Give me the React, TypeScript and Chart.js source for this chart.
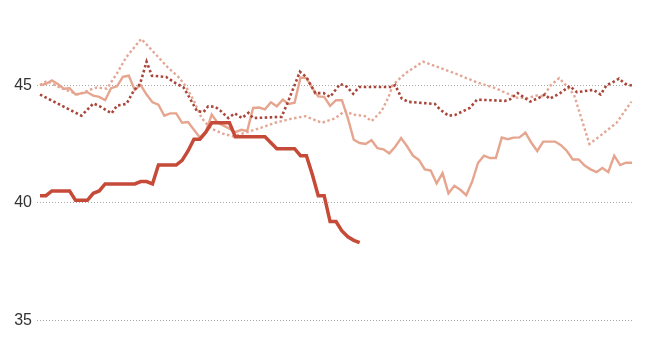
import React, { useEffect, useRef } from "react";
import { Chart, registerables } from "chart.js";

Chart.register(...registerables);

const yTicks = [35, 40, 45];

// Weekly series (x = week index)
const boldValues = [
  40.3, 40.3, 40.5, 40.5, 40.5, 40.5, 40.1, 40.1, 40.1, 40.4,
  40.5, 40.8, 40.8, 40.8, 40.8, 40.8, 40.8, 40.9, 40.9, 40.8,
  41.6, 41.6, 41.6, 41.6, 41.8, 42.2, 42.7, 42.7, 43.0, 43.4,
  43.4, 43.4, 43.4, 42.8, 42.8, 42.8, 42.8, 42.8, 42.8, 42.55,
  42.3, 42.3, 42.3, 42.3, 42.0, 42.0, 41.2, 40.3, 40.3, 39.2,
  39.2, 38.8, 38.55, 38.4, 38.3,
];

const lightSolidValues = [
  45.0, 45.05, 45.2, 45.05, 44.85, 44.87, 44.6, 44.65, 44.7, 44.55,
  44.5, 44.36, 44.87, 44.95, 45.35, 45.4, 44.8, 45.0, 44.6, 44.27,
  44.17, 43.7, 43.8, 43.8, 43.4, 43.43, 43.1, 42.77, 43.0, 43.75,
  43.4, 43.28, 43.15, 43.0, 43.1, 43.05, 44.03, 44.05, 43.97, 44.27,
  44.1, 44.38, 44.2, 44.25, 45.32, 45.3, 44.87, 44.52, 44.5, 44.12,
  44.36, 44.36, 43.6, 42.68, 42.54, 42.5, 42.66, 42.32, 42.27, 42.1,
  42.38, 42.75, 42.4, 42.0, 41.82, 41.42, 41.37, 40.82, 41.26, 40.4,
  40.72, 40.55, 40.32, 40.9, 41.7, 42.0, 41.9, 41.9, 42.77, 42.7,
  42.77, 42.78, 42.98, 42.55, 42.2, 42.6, 42.6, 42.6, 42.45, 42.2,
  41.84, 41.84, 41.58, 41.42, 41.3, 41.48, 41.3, 42.0, 41.6, 41.7, 41.7,
];

// Irregular series (week positions + values)
const darkDotWeeks = [
  0, 7, 9, 10.1, 12.1, 13, 14.6, 15.8, 16.9, 18, 18.9, 21.3, 23.1, 24.2, 25.3,
  26.5, 27.6, 28.4, 29.6, 30.4, 31.8, 32.9, 34.1, 35.2, 36, 40.8, 41.9, 43.9,
  45, 46.5, 47.9, 49, 50.7, 51.8, 52.9, 53.9, 59.4, 60, 61.1, 62.2, 66.7, 67.6,
  69, 70.1, 72.6, 73.8, 76, 78.5, 79.4, 80.7, 82.8, 84.2, 85.3, 86.1, 87.8,
  89.5, 90.7, 93.5, 94.7, 95.7, 96.6, 97.8, 98.8, 100,
];
const darkDotValues = [
  44.6, 43.7, 44.22, 44.1, 43.8, 44.13, 44.2, 44.75, 45.05, 46.0, 45.4, 45.35,
  45.05, 44.92, 44.45, 43.9, 43.85, 44.1, 44.08, 43.93, 43.6, 43.8, 43.6, 43.82,
  43.6, 43.65, 44.3, 45.57, 45.34, 44.66, 44.66, 44.5, 45.05, 44.94, 44.63,
  44.92, 44.92, 45.0, 44.43, 44.29, 44.2, 43.96, 43.7, 43.73, 44.03, 44.38,
  44.36, 44.33, 44.4, 44.66, 44.3, 44.45, 44.6, 44.42, 44.65, 44.96, 44.7, 44.8,
  44.6, 45.0, 45.1, 45.28, 45.06, 44.98,
];

const lightDotWeeks = [
  0, 1.2, 2.9, 6.4, 8.4, 9.6, 11.3, 13, 14.6, 17.1, 19.4, 21.6, 23.3, 24.5, 25.9,
  27.3, 28.9, 30.9, 32.6, 35, 37.5, 39.7, 42.6, 44.8, 47.6, 49.8, 51.5, 52.9,
  54.9, 56, 57.7, 58.8, 59.6, 61.7, 64.7, 70.1, 74, 76.9, 80.5, 82.3, 83.9, 85,
  86.3, 87.7, 89, 90.2, 92.8, 94.6, 97.4, 99.9,
];
const lightDotValues = [
  45.0, 45.18, 44.95, 44.6, 44.8, 44.9, 44.85, 45.5, 46.2, 46.97, 46.35, 45.75,
  45.37, 45.0, 44.38, 43.6, 43.15, 42.94, 42.82, 43.0, 43.2, 43.4, 43.58, 43.68,
  43.4, 43.58, 43.9, 43.75, 43.68, 43.47, 43.9, 44.45, 45.0, 45.5, 46.0, 45.5,
  45.1, 44.87, 44.47, 44.45, 44.56, 44.52, 45.0, 45.3, 44.95, 44.6, 42.5, 42.84,
  43.4, 44.3,
];

const toPoints = (xs: number[], ys: number[]) => ys.map((y, i) => ({ x: xs[i], y }));
const weekIdx = (ys: number[]) => ys.map((_, i) => i);

export default function App() {
  const ref = useRef<HTMLCanvasElement | null>(null);

  useEffect(() => {
    if (!ref.current) return;
    const chart = new Chart(ref.current, {
      type: "line",
      data: {
        datasets: [
          {
            data: toPoints(weekIdx(boldValues), boldValues),
            borderColor: "#c64a38",
            borderWidth: 3.5,
            pointRadius: 0,
            tension: 0,
            borderJoinStyle: "miter",
          },
          {
            data: toPoints(darkDotWeeks, darkDotValues),
            borderColor: "#a9453a",
            borderWidth: 2.6,
            borderDash: [2.5, 2.5],
            pointRadius: 0,
            tension: 0,
          },
          {
            data: toPoints(weekIdx(lightSolidValues), lightSolidValues),
            borderColor: "#e6a58f",
            borderWidth: 2.4,
            pointRadius: 0,
            tension: 0,
          },
          {
            data: toPoints(lightDotWeeks, lightDotValues),
            borderColor: "#e3a795",
            borderWidth: 2.4,
            borderDash: [2.5, 2.5],
            pointRadius: 0,
            tension: 0,
          },
        ],
      },
      options: {
        animation: false,
        responsive: false,
        maintainAspectRatio: false,
        layout: { padding: { left: 0, right: 17, top: 10.6, bottom: 16.2 } },
        plugins: { legend: { display: false }, tooltip: { enabled: false } },
        scales: {
          x: {
            type: "linear",
            min: -0.51,
            max: 100.17,
            display: false,
          },
          y: {
            min: 34,
            max: 48,
            afterBuildTicks: (s: any) => {
              s.ticks = yTicks.map((v) => ({ value: v }));
            },
            afterFit: (s: any) => {
              s.width = 37;
            },
            border: { display: false, dash: [1, 2] },
            grid: {
              color: "#a8a8a8",
              lineWidth: 1,
              drawTicks: false,
            },
            ticks: {
              padding: 5,
              color: "#333333",
              font: { family: "'Liberation Sans', Arial, sans-serif", size: 16 },
            },
          },
        },
      },
    } as any);
    return () => chart.destroy();
  }, []);

  return (
    <div style={{ position: "fixed", left: 0, top: 0, width: 650, height: 360, background: "#fff" }}>
      <canvas ref={ref} width={650} height={360} style={{ width: 650, height: 360 }} />
    </div>
  );
}
